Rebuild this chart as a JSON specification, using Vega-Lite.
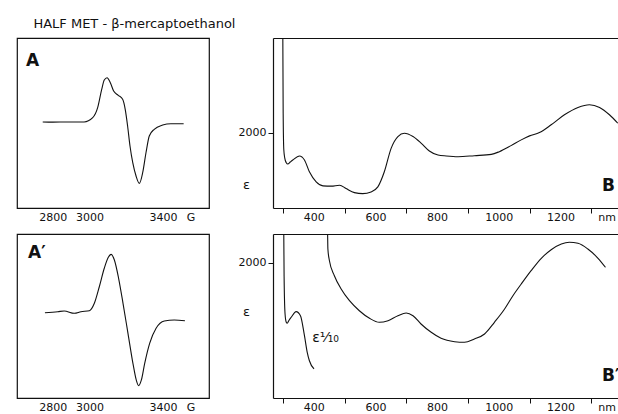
{
  "$schema": "https://vega.github.io/schema/vega-lite/v6.json",
  "padding": {"left": 16, "top": 18, "right": 0, "bottom": 0},
  "title": {"text": "HALF MET - β-mercaptoethanol", "anchor": "start", "dx": 17, "offset": 6, "fontSize": 13, "fontWeight": "normal", "font": "DejaVu Sans", "color": "#111"},
  "config": {
    "view": {"stroke": null},
    "font": "DejaVu Sans",
    "axis": {"labelFont": "DejaVu Sans", "labelFontSize": 11, "labelColor": "#111", "domainColor": "#111", "tickColor": "#111", "grid": false, "titleFont": "DejaVu Sans", "titleColor": "#111"}
  },
  "datasets": {
    "epr": [
      {"panel": "A", "G": 2745, "v": 1.2}, {"panel": "A", "G": 2800, "v": 1.0}, {"panel": "A", "G": 2880, "v": 1.2}, {"panel": "A", "G": 2970, "v": 1.2},
      {"panel": "A", "G": 3017, "v": 6.2}, {"panel": "A", "G": 3044, "v": 18}, {"panel": "A", "G": 3066, "v": 39.6}, {"panel": "A", "G": 3080, "v": 50.6},
      {"panel": "A", "G": 3095, "v": 53.3}, {"panel": "A", "G": 3113, "v": 47.4}, {"panel": "A", "G": 3131, "v": 37.6}, {"panel": "A", "G": 3156, "v": 32.6},
      {"panel": "A", "G": 3180, "v": 27.9}, {"panel": "A", "G": 3194, "v": 16.1}, {"panel": "A", "G": 3207, "v": -3.5}, {"panel": "A", "G": 3220, "v": -27},
      {"panel": "A", "G": 3235, "v": -46.7}, {"panel": "A", "G": 3253, "v": -62.4}, {"panel": "A", "G": 3271, "v": -71}, {"panel": "A", "G": 3289, "v": -58.5},
      {"panel": "A", "G": 3307, "v": -35}, {"panel": "A", "G": 3325, "v": -15.3}, {"panel": "A", "G": 3352, "v": -7.4}, {"panel": "A", "G": 3398, "v": -2.4},
      {"panel": "A", "G": 3443, "v": -0.8}, {"panel": "A", "G": 3512, "v": -0.8},
      {"panel": "Ap", "G": 2757, "v": 4.0}, {"panel": "Ap", "G": 2827, "v": 5.2}, {"panel": "Ap", "G": 2862, "v": 6.1}, {"panel": "Ap", "G": 2917, "v": 3.3},
      {"panel": "Ap", "G": 2953, "v": 5.2}, {"panel": "Ap", "G": 2999, "v": 6.5}, {"panel": "Ap", "G": 3026, "v": 15.5}, {"panel": "Ap", "G": 3053, "v": 35.7},
      {"panel": "Ap", "G": 3080, "v": 58.2}, {"panel": "Ap", "G": 3102, "v": 71.6}, {"panel": "Ap", "G": 3117, "v": 75.2}, {"panel": "Ap", "G": 3135, "v": 68.3},
      {"panel": "Ap", "G": 3158, "v": 46}, {"panel": "Ap", "G": 3182, "v": 15.5}, {"panel": "Ap", "G": 3209, "v": -21.1}, {"panel": "Ap", "G": 3236, "v": -57.7},
      {"panel": "Ap", "G": 3254, "v": -78}, {"panel": "Ap", "G": 3267, "v": -85}, {"panel": "Ap", "G": 3282, "v": -78}, {"panel": "Ap", "G": 3300, "v": -57.7},
      {"panel": "Ap", "G": 3327, "v": -33.3}, {"panel": "Ap", "G": 3362, "v": -15}, {"panel": "Ap", "G": 3407, "v": -6.1}, {"panel": "Ap", "G": 3461, "v": -4.9},
      {"panel": "Ap", "G": 3519, "v": -5.7}
    ],
    "abs": [
      {"panel": "B", "seg": "m", "nm": 299, "e": 6000}, {"panel": "B", "seg": "m", "nm": 301, "e": 2500}, {"panel": "B", "seg": "m", "nm": 303, "e": 1550},
      {"panel": "B", "seg": "m", "nm": 306, "e": 1330}, {"panel": "B", "seg": "m", "nm": 311, "e": 1200}, {"panel": "B", "seg": "m", "nm": 316, "e": 1165},
      {"panel": "B", "seg": "m", "nm": 324, "e": 1220}, {"panel": "B", "seg": "m", "nm": 332, "e": 1272}, {"panel": "B", "seg": "m", "nm": 354, "e": 1379},
      {"panel": "B", "seg": "m", "nm": 370, "e": 1272}, {"panel": "B", "seg": "m", "nm": 386, "e": 960}, {"panel": "B", "seg": "m", "nm": 408, "e": 693},
      {"panel": "B", "seg": "m", "nm": 430, "e": 587}, {"panel": "B", "seg": "m", "nm": 457, "e": 579}, {"panel": "B", "seg": "m", "nm": 484, "e": 605},
      {"panel": "B", "seg": "m", "nm": 505, "e": 515}, {"panel": "B", "seg": "m", "nm": 532, "e": 408}, {"panel": "B", "seg": "m", "nm": 559, "e": 381},
      {"panel": "B", "seg": "m", "nm": 586, "e": 427}, {"panel": "B", "seg": "m", "nm": 608, "e": 560}, {"panel": "B", "seg": "m", "nm": 629, "e": 960},
      {"panel": "B", "seg": "m", "nm": 651, "e": 1582}, {"panel": "B", "seg": "m", "nm": 673, "e": 1894}, {"panel": "B", "seg": "m", "nm": 694, "e": 1982},
      {"panel": "B", "seg": "m", "nm": 722, "e": 1894}, {"panel": "B", "seg": "m", "nm": 749, "e": 1715}, {"panel": "B", "seg": "m", "nm": 775, "e": 1512},
      {"panel": "B", "seg": "m", "nm": 803, "e": 1405}, {"panel": "B", "seg": "m", "nm": 830, "e": 1379}, {"panel": "B", "seg": "m", "nm": 868, "e": 1360},
      {"panel": "B", "seg": "m", "nm": 921, "e": 1387}, {"panel": "B", "seg": "m", "nm": 976, "e": 1421}, {"panel": "B", "seg": "m", "nm": 1002, "e": 1494},
      {"panel": "B", "seg": "m", "nm": 1040, "e": 1654}, {"panel": "B", "seg": "m", "nm": 1073, "e": 1806}, {"panel": "B", "seg": "m", "nm": 1100, "e": 1912},
      {"panel": "B", "seg": "m", "nm": 1132, "e": 2000}, {"panel": "B", "seg": "m", "nm": 1170, "e": 2206}, {"panel": "B", "seg": "m", "nm": 1213, "e": 2472},
      {"panel": "B", "seg": "m", "nm": 1257, "e": 2667}, {"panel": "B", "seg": "m", "nm": 1294, "e": 2739}, {"panel": "B", "seg": "m", "nm": 1327, "e": 2667},
      {"panel": "B", "seg": "m", "nm": 1359, "e": 2472}, {"panel": "B", "seg": "m", "nm": 1386, "e": 2248},
      {"panel": "Bp", "seg": "s", "nm": 302, "e": 3000}, {"panel": "Bp", "seg": "s", "nm": 304, "e": 1800}, {"panel": "Bp", "seg": "s", "nm": 307, "e": 1250},
      {"panel": "Bp", "seg": "s", "nm": 311, "e": 1119}, {"panel": "Bp", "seg": "s", "nm": 314, "e": 1104}, {"panel": "Bp", "seg": "s", "nm": 320, "e": 1150},
      {"panel": "Bp", "seg": "s", "nm": 327, "e": 1193}, {"panel": "Bp", "seg": "s", "nm": 343, "e": 1276}, {"panel": "Bp", "seg": "s", "nm": 357, "e": 1216},
      {"panel": "Bp", "seg": "s", "nm": 370, "e": 921}, {"panel": "Bp", "seg": "s", "nm": 379, "e": 675}, {"panel": "Bp", "seg": "s", "nm": 386, "e": 551},
      {"panel": "Bp", "seg": "s", "nm": 401, "e": 429},
      {"panel": "Bp", "seg": "m", "nm": 443, "e": 3000}, {"panel": "Bp", "seg": "m", "nm": 445, "e": 2450}, {"panel": "Bp", "seg": "m", "nm": 446, "e": 2202},
      {"panel": "Bp", "seg": "m", "nm": 451, "e": 2029}, {"panel": "Bp", "seg": "m", "nm": 467, "e": 1808}, {"panel": "Bp", "seg": "m", "nm": 489, "e": 1611},
      {"panel": "Bp", "seg": "m", "nm": 516, "e": 1438}, {"panel": "Bp", "seg": "m", "nm": 548, "e": 1290}, {"panel": "Bp", "seg": "m", "nm": 581, "e": 1178},
      {"panel": "Bp", "seg": "m", "nm": 613, "e": 1119}, {"panel": "Bp", "seg": "m", "nm": 641, "e": 1143}, {"panel": "Bp", "seg": "m", "nm": 673, "e": 1216},
      {"panel": "Bp", "seg": "m", "nm": 700, "e": 1256}, {"panel": "Bp", "seg": "m", "nm": 722, "e": 1216}, {"panel": "Bp", "seg": "m", "nm": 748, "e": 1094},
      {"panel": "Bp", "seg": "m", "nm": 781, "e": 971}, {"panel": "Bp", "seg": "m", "nm": 813, "e": 882}, {"panel": "Bp", "seg": "m", "nm": 857, "e": 832},
      {"panel": "Bp", "seg": "m", "nm": 889, "e": 823}, {"panel": "Bp", "seg": "m", "nm": 921, "e": 872}, {"panel": "Bp", "seg": "m", "nm": 954, "e": 946},
      {"panel": "Bp", "seg": "m", "nm": 986, "e": 1119}, {"panel": "Bp", "seg": "m", "nm": 1019, "e": 1315}, {"panel": "Bp", "seg": "m", "nm": 1046, "e": 1512},
      {"panel": "Bp", "seg": "m", "nm": 1073, "e": 1685}, {"panel": "Bp", "seg": "m", "nm": 1105, "e": 1882}, {"panel": "Bp", "seg": "m", "nm": 1138, "e": 2065},
      {"panel": "Bp", "seg": "m", "nm": 1170, "e": 2192}, {"panel": "Bp", "seg": "m", "nm": 1203, "e": 2276}, {"panel": "Bp", "seg": "m", "nm": 1229, "e": 2301},
      {"panel": "Bp", "seg": "m", "nm": 1257, "e": 2286}, {"panel": "Bp", "seg": "m", "nm": 1289, "e": 2202}, {"panel": "Bp", "seg": "m", "nm": 1322, "e": 2065},
      {"panel": "Bp", "seg": "m", "nm": 1346, "e": 1932}
    ]
  },
  "bounds": "flush",
  "columns": 2,
  "spacing": {"row": 26, "column": 64},
  "concat": [
    {
      "width": 192, "height": 170,
      "view": {"stroke": "#111", "strokeWidth": 1.2},
      "layer": [
        {
          "data": {"name": "epr"},
          "transform": [{"filter": "datum.panel == 'A'"}],
          "mark": {"type": "line", "interpolate": "monotone", "color": "#111", "strokeWidth": 1.1, "clip": true},
          "encoding": {
            "x": {"field": "G", "type": "quantitative", "scale": {"domain": [2605, 3650], "nice": false, "zero": false},
              "axis": {"values": [2800, 2955, 3000, 3245, 3400, 3515, 3550], "format": "d",
                "labelExpr": "datum.value == 3550 ? 'G' : ((datum.value == 2800 || datum.value == 3000 || datum.value == 3400) ? datum.label : '')",
                "tickOpacity": {"condition": {"test": "datum.value == 2955 || datum.value == 3245 || datum.value == 3515", "value": 1}, "value": 0},
                "tickSize": 4, "domain": false, "title": null, "labelOverlap": false, "labelFlush": false, "labelBound": false, "labelPadding": -1}},
            "y": {"field": "v", "type": "quantitative", "scale": {"domain": [-100, 100], "nice": false}, "axis": null}
          }
        },
        {
          "data": {"values": [{}]},
          "mark": {"type": "text", "text": "A", "fontSize": 17, "fontWeight": "bold", "align": "left", "baseline": "middle", "font": "DejaVu Sans", "color": "#111"},
          "encoding": {"x": {"datum": 2654, "type": "quantitative"}, "y": {"datum": 73, "type": "quantitative"}}
        }
      ]
    },
    {
      "width": 346, "height": 170,
      "resolve": {"axis": {"x": "independent", "y": "independent"}},
      "layer": [
        {
          "data": {"name": "abs"},
          "transform": [{"filter": "datum.panel == 'B'"}],
          "mark": {"type": "line", "interpolate": "monotone", "color": "#111", "strokeWidth": 1.1, "clip": true},
          "encoding": {
            "x": {"field": "nm", "type": "quantitative", "scale": {"domain": [268, 1390], "nice": false, "zero": false},
              "axis": {"orient": "bottom", "values": [300, 400, 500, 600, 700, 800, 900, 1000, 1100, 1200, 1300, 1350], "format": "d",
                "labelExpr": "datum.value == 1350 ? 'nm' : (datum.value % 200 == 0 ? datum.label : '')",
                "tickOpacity": {"condition": {"test": "datum.value % 200 == 0 || datum.value == 1350", "value": 0}, "value": 1},
                "tickSize": 5, "domain": true, "domainWidth": 1.2, "title": null, "labelOverlap": false, "labelFlush": false, "labelBound": false, "labelPadding": -2}},
            "y": {"field": "e", "type": "quantitative", "scale": {"domain": [0, 4507], "nice": false},
              "axis": {"orient": "left", "values": [2000], "format": "d", "tickSize": 5, "labelPadding": 2, "domainWidth": 1.2,
                "title": "ε", "titleAngle": 0, "titleX": -27, "titleY": 146, "titleAlign": "center", "titleBaseline": "middle", "titleFontSize": 13, "titleFontWeight": "normal"}}
          }
        },
        {
          "data": {"name": "abs"},
          "transform": [{"filter": "datum.panel == 'B'"}],
          "mark": {"type": "line", "opacity": 0, "clip": true},
          "encoding": {
            "x": {"field": "nm", "type": "quantitative", "axis": {"orient": "top", "labels": false, "ticks": false, "domain": true, "domainWidth": 1.2, "title": null}},
            "y": {"field": "e", "type": "quantitative", "axis": null}
          }
        },
        {
          "data": {"values": [{}]},
          "mark": {"type": "text", "text": "B", "fontSize": 17, "fontWeight": "bold", "align": "left", "baseline": "middle", "font": "DejaVu Sans", "color": "#111", "clip": true},
          "encoding": {"x": {"datum": 1335, "type": "quantitative", "axis": null}, "y": {"datum": 587, "type": "quantitative", "axis": null}}
        }
      ]
    },
    {
      "width": 192, "height": 164,
      "view": {"stroke": "#111", "strokeWidth": 1.2},
      "layer": [
        {
          "data": {"name": "epr"},
          "transform": [{"filter": "datum.panel == 'Ap'"}],
          "mark": {"type": "line", "interpolate": "monotone", "color": "#111", "strokeWidth": 1.1, "clip": true},
          "encoding": {
            "x": {"field": "G", "type": "quantitative", "scale": {"domain": [2605, 3650], "nice": false, "zero": false},
              "axis": {"values": [2800, 2955, 3000, 3245, 3400, 3515, 3550], "format": "d",
                "labelExpr": "datum.value == 3550 ? 'G' : ((datum.value == 2800 || datum.value == 3000 || datum.value == 3400) ? datum.label : '')",
                "tickOpacity": {"condition": {"test": "datum.value == 2955 || datum.value == 3245 || datum.value == 3515", "value": 1}, "value": 0},
                "tickSize": 4, "domain": false, "title": null, "labelOverlap": false, "labelFlush": false, "labelBound": false, "labelPadding": -1}},
            "y": {"field": "v", "type": "quantitative", "scale": {"domain": [-100, 100], "nice": false}, "axis": null}
          }
        },
        {
          "data": {"values": [{}]},
          "mark": {"type": "text", "text": "A′", "fontSize": 17, "fontWeight": "bold", "align": "left", "baseline": "middle", "font": "DejaVu Sans", "color": "#111"},
          "encoding": {"x": {"datum": 2665, "type": "quantitative"}, "y": {"datum": 76.8, "type": "quantitative"}}
        }
      ]
    },
    {
      "width": 346, "height": 164,
      "resolve": {"axis": {"x": "independent", "y": "independent"}},
      "layer": [
        {
          "data": {"name": "abs"},
          "transform": [{"filter": "datum.panel == 'Bp'"}],
          "mark": {"type": "line", "interpolate": "monotone", "color": "#111", "strokeWidth": 1.1, "clip": true},
          "encoding": {
            "x": {"field": "nm", "type": "quantitative", "scale": {"domain": [268, 1390], "nice": false, "zero": false},
              "axis": {"orient": "bottom", "values": [300, 400, 500, 600, 700, 800, 900, 1000, 1100, 1200, 1300, 1350], "format": "d",
                "labelExpr": "datum.value == 1350 ? 'nm' : (datum.value % 200 == 0 ? datum.label : '')",
                "tickOpacity": {"condition": {"test": "datum.value % 200 == 0 || datum.value == 1350", "value": 0}, "value": 1},
                "tickSize": 5, "domain": true, "domainWidth": 1.2, "title": null, "labelOverlap": false, "labelFlush": false, "labelBound": false, "labelPadding": -2}},
            "y": {"field": "e", "type": "quantitative", "scale": {"domain": [0, 2424], "nice": false},
              "axis": {"orient": "left", "values": [2000], "format": "d", "tickSize": 5, "labelPadding": 2, "domainWidth": 1.2,
                "title": "ε", "titleAngle": 0, "titleX": -27, "titleY": 77, "titleAlign": "center", "titleBaseline": "middle", "titleFontSize": 13, "titleFontWeight": "normal"}},
            "detail": {"field": "seg"}
          }
        },
        {
          "data": {"name": "abs"},
          "transform": [{"filter": "datum.panel == 'Bp'"}],
          "mark": {"type": "line", "opacity": 0, "clip": true},
          "encoding": {
            "x": {"field": "nm", "type": "quantitative", "axis": {"orient": "top", "labels": false, "ticks": false, "domain": true, "domainWidth": 1.2, "title": null}},
            "y": {"field": "e", "type": "quantitative", "axis": null},
            "detail": {"field": "seg"}
          }
        },
        {
          "data": {"values": [{}]},
          "mark": {"type": "text", "text": "B′", "fontSize": 17, "fontWeight": "bold", "align": "left", "baseline": "middle", "font": "DejaVu Sans", "color": "#111", "clip": true},
          "encoding": {"x": {"datum": 1335, "type": "quantitative", "axis": null}, "y": {"datum": 325, "type": "quantitative", "axis": null}}
        },
        {
          "data": {"values": [{}]},
          "mark": {"type": "text", "text": "ε¹⁄₁₀", "fontSize": 14, "align": "left", "baseline": "middle", "font": "DejaVu Sans", "color": "#111"},
          "encoding": {"x": {"datum": 395, "type": "quantitative", "axis": null}, "y": {"datum": 887, "type": "quantitative", "axis": null}}
        }
      ]
    }
  ]
}
